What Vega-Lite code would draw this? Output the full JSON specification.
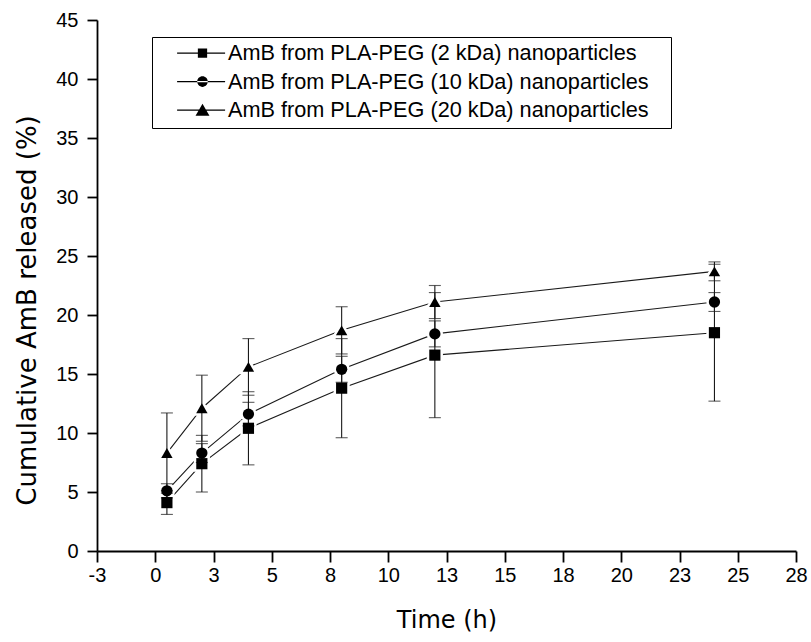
{
  "$schema": "https://vega.github.io/schema/vega-lite/v6.json",
  "width": 699,
  "height": 531,
  "autosize": "none",
  "padding": {"left": 97, "top": 20, "right": 15, "bottom": 91},
  "background": "white",
  "config": {
    "view": {"stroke": null},
    "font": "Liberation Sans",
    "axis": {
      "domainColor": "black",
      "domainWidth": 1.8,
      "tickColor": "black",
      "tickWidth": 1.8,
      "labelColor": "black",
      "labelFont": "Liberation Sans",
      "labelFontSize": 20,
      "titleFont": "DejaVu Sans",
      "titleFontWeight": "normal",
      "titleColor": "black",
      "grid": false
    }
  },
  "data": {
    "values": [
      {"t": 0.5, "series": "AmB from PLA-PEG (2 kDa) nanoparticles", "v": 4.1, "e": 1.0},
      {"t": 2, "series": "AmB from PLA-PEG (2 kDa) nanoparticles", "v": 7.4, "e": 2.4},
      {"t": 4, "series": "AmB from PLA-PEG (2 kDa) nanoparticles", "v": 10.4, "e": 3.1},
      {"t": 8, "series": "AmB from PLA-PEG (2 kDa) nanoparticles", "v": 13.8, "e": 4.2},
      {"t": 12, "series": "AmB from PLA-PEG (2 kDa) nanoparticles", "v": 16.6, "e": 5.3},
      {"t": 24, "series": "AmB from PLA-PEG (2 kDa) nanoparticles", "v": 18.5, "e": 5.8},
      {"t": 0.5, "series": "AmB from PLA-PEG (10 kDa) nanoparticles", "v": 5.1, "e": 0.6},
      {"t": 2, "series": "AmB from PLA-PEG (10 kDa) nanoparticles", "v": 8.3, "e": 0.8},
      {"t": 4, "series": "AmB from PLA-PEG (10 kDa) nanoparticles", "v": 11.6, "e": 1.0},
      {"t": 8, "series": "AmB from PLA-PEG (10 kDa) nanoparticles", "v": 15.4, "e": 1.1},
      {"t": 12, "series": "AmB from PLA-PEG (10 kDa) nanoparticles", "v": 18.4, "e": 1.1},
      {"t": 24, "series": "AmB from PLA-PEG (10 kDa) nanoparticles", "v": 21.1, "e": 0.8},
      {"t": 0.5, "series": "AmB from PLA-PEG (20 kDa) nanoparticles", "v": 8.3, "e": 3.4},
      {"t": 2, "series": "AmB from PLA-PEG (20 kDa) nanoparticles", "v": 12.1, "e": 2.8},
      {"t": 4, "series": "AmB from PLA-PEG (20 kDa) nanoparticles", "v": 15.6, "e": 2.4},
      {"t": 8, "series": "AmB from PLA-PEG (20 kDa) nanoparticles", "v": 18.7, "e": 2.0},
      {"t": 12, "series": "AmB from PLA-PEG (20 kDa) nanoparticles", "v": 21.1, "e": 1.4},
      {"t": 24, "series": "AmB from PLA-PEG (20 kDa) nanoparticles", "v": 23.7, "e": 0.8}
    ]
  },
  "transform": [
    {"calculate": "datum.v - datum.e", "as": "lo"},
    {"calculate": "datum.v + datum.e", "as": "hi"}
  ],
  "encoding": {
    "x": {
      "field": "t", "type": "quantitative",
      "scale": {"domain": [-2.5, 27.5], "nice": false, "zero": false},
      "axis": {
        "title": "Time (h)",
        "titleFontSize": 24,
        "titleBaseline": "alphabetic",
        "titleY": 76.5,
        "values": [-2.5, 0, 2.5, 5, 7.5, 10, 12.5, 15, 17.5, 20, 22.5, 25, 27.5],
        "labelExpr": "datum.value < 0 ? '-' + format(-datum.value, '.0f') : format(datum.value, '.0f')",
        "tickSize": 11,
        "labelPadding": 3,
        "labelFlush": false,
        "labelOverlap": false
      }
    }
  },
  "layer": [
    {
      "mark": {"type": "line", "color": "#1a1a1a", "strokeWidth": 1.1},
      "encoding": {
        "y": {"field": "v", "type": "quantitative"},
        "detail": {"field": "series"}
      }
    },
    {
      "mark": {"type": "point", "filled": true, "color": "black", "stroke": "white", "strokeWidth": 5, "opacity": 1},
      "encoding": {
        "y": {"field": "v", "type": "quantitative"},
        "shape": {"field": "series", "type": "nominal",
          "scale": {"domain": ["AmB from PLA-PEG (2 kDa) nanoparticles", "AmB from PLA-PEG (10 kDa) nanoparticles", "AmB from PLA-PEG (20 kDa) nanoparticles"], "range": ["square", "circle", "triangle-up"]},
          "legend": null},
        "size": {"field": "series", "type": "ordinal",
          "scale": {"domain": ["AmB from PLA-PEG (2 kDa) nanoparticles", "AmB from PLA-PEG (10 kDa) nanoparticles", "AmB from PLA-PEG (20 kDa) nanoparticles"], "range": [125, 130, 180]},
          "legend": null}
      }
    },
    {
      "mark": {"type": "rule", "color": "#1a1a1a", "strokeWidth": 1.1},
      "encoding": {
        "y": {"field": "lo", "type": "quantitative"},
        "y2": {"field": "hi"}
      }
    },
    {
      "mark": {"type": "tick", "orient": "horizontal", "color": "#1a1a1a", "thickness": 1.1, "size": 12},
      "encoding": {"y": {"field": "lo", "type": "quantitative"}}
    },
    {
      "mark": {"type": "tick", "orient": "horizontal", "color": "#1a1a1a", "thickness": 1.1, "size": 12},
      "encoding": {"y": {"field": "hi", "type": "quantitative"}}
    },
    {
      "mark": {"type": "point", "filled": true, "color": "black", "opacity": 1},
      "encoding": {
        "y": {
          "field": "v", "type": "quantitative",
          "scale": {"domain": [0, 45], "nice": false},
          "axis": {
            "title": "Cumulative AmB released (%)",
            "titleFontSize": 26,
            "titleBaseline": "alphabetic",
            "titleX": -62,
            "titleY": 290,
            "values": [0, 2.5, 5, 7.5, 10, 12.5, 15, 17.5, 20, 22.5, 25, 27.5, 30, 32.5, 35, 37.5, 40, 42.5, 45],
            "labelExpr": "datum.value % 5 === 0 ? format(datum.value, 'd') : ''",
            "tickSize": {"condition": {"test": "datum.value % 5 === 0", "value": 10}, "value": 6},
            "labelPadding": 9,
            "labelFlush": false,
            "labelOverlap": false
          }
        },
        "shape": {"field": "series", "type": "nominal",
          "scale": {"domain": ["AmB from PLA-PEG (2 kDa) nanoparticles", "AmB from PLA-PEG (10 kDa) nanoparticles", "AmB from PLA-PEG (20 kDa) nanoparticles"], "range": ["square", "circle", "triangle-up"]},
          "legend": null},
        "size": {"field": "series", "type": "ordinal",
          "scale": {"domain": ["AmB from PLA-PEG (2 kDa) nanoparticles", "AmB from PLA-PEG (10 kDa) nanoparticles", "AmB from PLA-PEG (20 kDa) nanoparticles"], "range": [125, 130, 180]},
          "legend": null}
      }
    },
    {
      "mark": {"type": "point", "filled": true, "color": "black", "opacity": 0},
      "encoding": {
        "y": {"field": "v", "type": "quantitative"},
        "shape": {
          "field": "series", "type": "nominal",
          "scale": {"domain": ["AmB from PLA-PEG (2 kDa) nanoparticles", "AmB from PLA-PEG (10 kDa) nanoparticles", "AmB from PLA-PEG (20 kDa) nanoparticles"],
            "range": [
              "M-1,0L-1,0M62.1,0L62.1,0M1.125,-0.08H7.125V0.08H1.125ZM3.72,-0.58H4.88V0.58H3.72Z",
              "M-1,0L-1,0M62.1,0L62.1,0M1.125,-0.08H7.125V0.08H1.125ZM3.64,0A0.66,0.66 0 1,0 4.96,0A0.66,0.66 0 1,0 3.64,0Z",
              "M-1,0L-1,0M62.1,0L62.1,0M1.125,-0.08H7.125V0.08H1.125ZM4.3,-0.8L5.17,0.7L3.43,0.7Z"
            ]},
          "legend": {
            "title": null,
            "orient": "none",
            "legendX": 55,
            "legendY": 17,
            "strokeColor": "black",
            "padding": 5.25,
            "rowPadding": 5.5,
            "labelFont": "Liberation Sans",
            "labelFontSize": 21.7,
            "labelColor": "black",
            "labelLimit": 800,
            "labelOffset": 49,
            "symbolSize": 256,
            "symbolOpacity": 1,
            "symbolFillColor": "black",
            "symbolStrokeColor": "black",
            "symbolStrokeWidth": 0
          }
        }
      }
    }
  ],
  "resolve": {"scale": {"shape": "independent"}}
}
